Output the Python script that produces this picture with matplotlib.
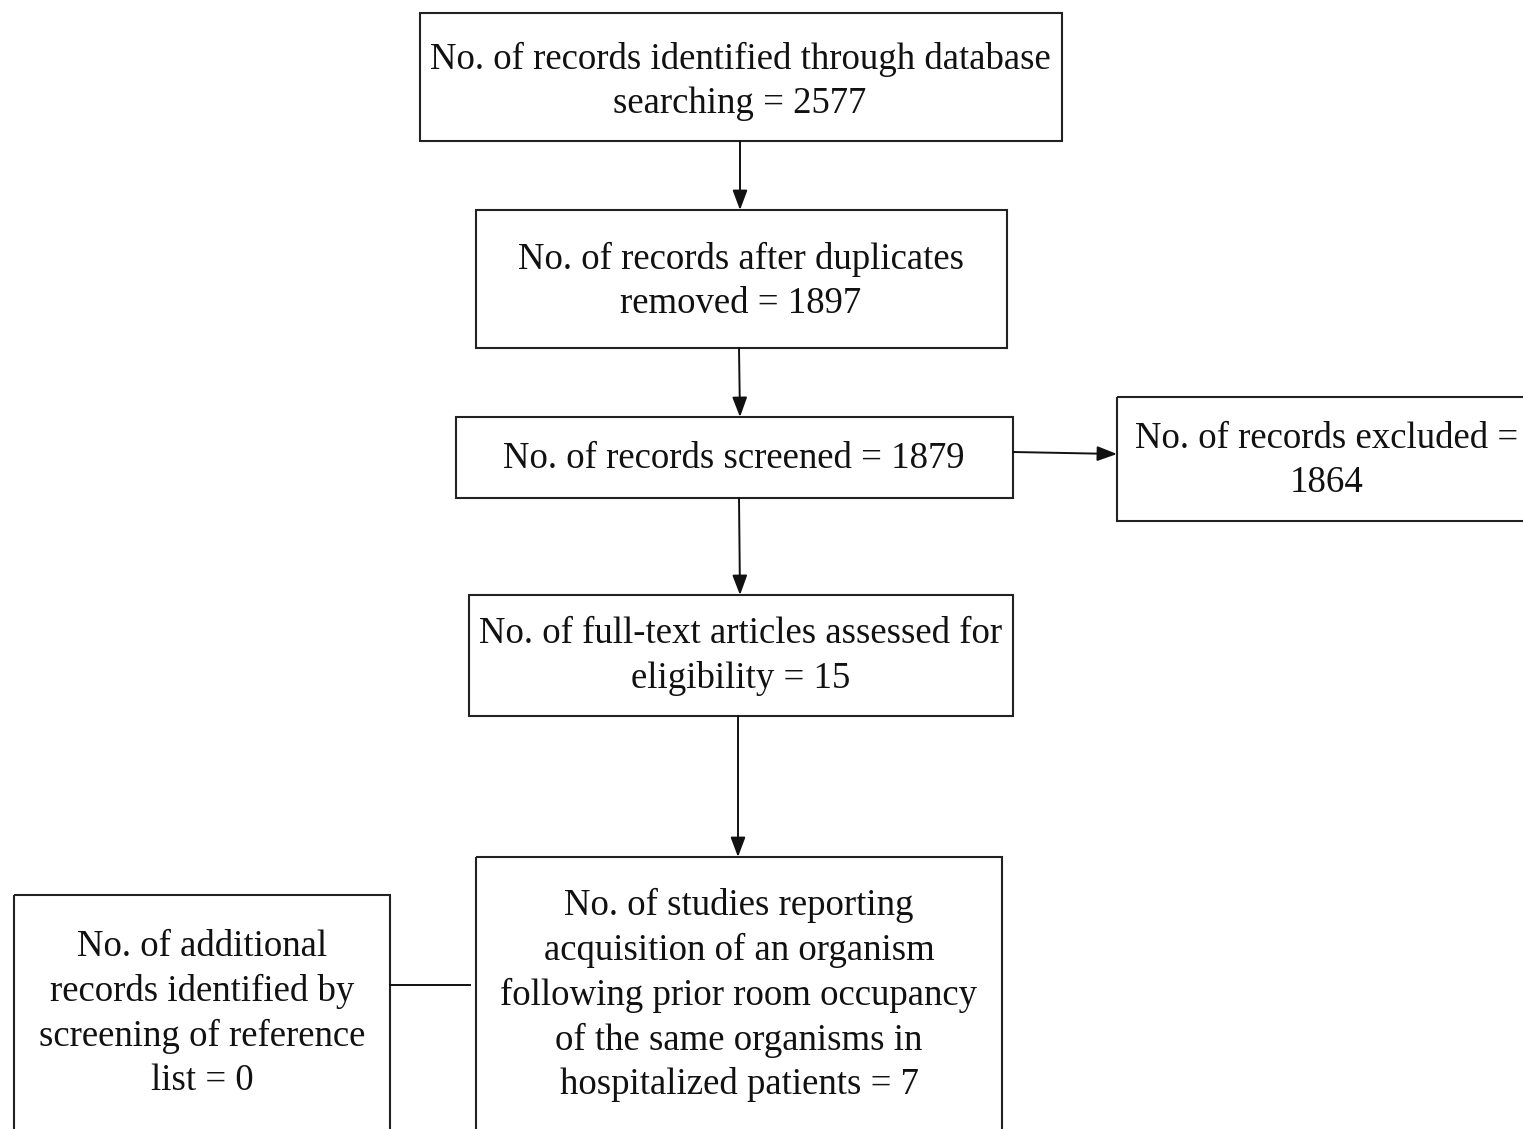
import matplotlib
matplotlib.use('Agg')
import matplotlib.pyplot as plt
from matplotlib.patches import Rectangle

plt.rcParams['font.family'] = ['Liberation Serif', 'DejaVu Serif']

# box texts
labels = [
    'No. of records identified through database\nsearching = 2577',
    'No. of records after duplicates\nremoved = 1897',
    'No. of records screened = 1879',
    'No. of records excluded =\n1864',
    'No. of full-text articles assessed for\neligibility = 15',
    'No. of studies reporting\nacquisition of an organism\nfollowing prior room occupancy\nof the same organisms in\nhospitalized patients = 7',
    'No. of additional\nrecords identified by\nscreening of reference\nlist = 0',
]

# layout in pixels: left, top, right, bottom, text centre x, text centre y
boxes = [
    (420, 13, 1062, 141, 740, 81),
    (476, 210, 1007, 348, 741, 281),
    (456, 417, 1013, 498, 734, 459),
    (1117, 397, 1530, 521, 1327, 461),
    (469, 595, 1013, 716, 741, 656),
    (476, 857, 1002, 1140, 739, 995),
    (14, 895, 390, 1140, 202, 1014),
]

# arrows (x0, y0, x1, y1)
arrows = [
    (740, 141, 740, 210),
    (739, 348, 740, 417),
    (739, 498, 740, 595),
    (738, 716, 738, 857),
    (1013, 452, 1117, 454),
]

W, H = 1523, 1129
fig = plt.figure(figsize=(W / 100, H / 100), dpi=100)
ax = fig.add_axes([0, 0, 1, 1])
ax.set_xlim(0, W)
ax.set_ylim(H, 0)
ax.axis('off')

for (l, t, r, b, tx, ty), lab in zip(boxes, labels):
    ax.add_patch(Rectangle((l, t), r - l, b - t, fill=False,
                           edgecolor='#222222', linewidth=1.5))
    ax.text(tx, ty, lab, ha='center', va='center', fontsize=26.5,
            linespacing=1.36, color='#111111')

for x0, y0, x1, y1 in arrows:
    ax.annotate('', xy=(x1, y1), xytext=(x0, y0),
                arrowprops=dict(arrowstyle='-|>,head_length=1.2,head_width=0.45',
                                color='#111111', lw=1.4,
                                shrinkA=0, shrinkB=0))

# plain connector from the left box
ax.plot([390, 470], [985, 985], color='#111111', lw=1.4)

fig.savefig('out.png', dpi=100)
